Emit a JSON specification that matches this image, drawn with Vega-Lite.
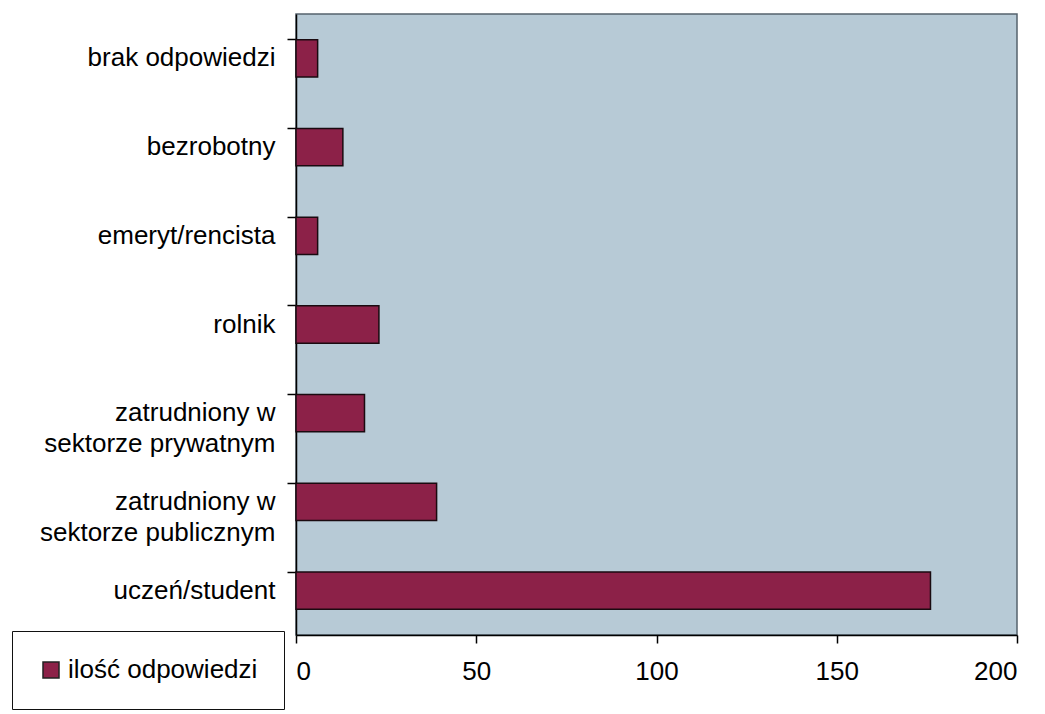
{
  "$schema": "https://vega.github.io/schema/vega-lite/v6.json",
  "width": 721,
  "height": 621,
  "autosize": {"type": "none"},
  "padding": {"left": 296, "top": 14, "right": 28, "bottom": 79},
  "background": "white",
  "data": {
    "values": [
      {"kategoria": "brak odpowiedzi", "seria": "ilość odpowiedzi", "wartosc": 6},
      {"kategoria": "bezrobotny", "seria": "ilość odpowiedzi", "wartosc": 13},
      {"kategoria": "emeryt/rencista", "seria": "ilość odpowiedzi", "wartosc": 6},
      {"kategoria": "rolnik", "seria": "ilość odpowiedzi", "wartosc": 23},
      {"kategoria": "zatrudniony w sektorze prywatnym", "seria": "ilość odpowiedzi", "wartosc": 19},
      {"kategoria": "zatrudniony w sektorze publicznym", "seria": "ilość odpowiedzi", "wartosc": 39},
      {"kategoria": "uczeń/student", "seria": "ilość odpowiedzi", "wartosc": 176}
    ]
  },
  "mark": {"type": "bar", "stroke": "#1a0a10", "strokeWidth": 1.5},
  "encoding": {
    "y": {
      "field": "kategoria",
      "type": "nominal",
      "sort": null,
      "scale": {"paddingInner": 0.58, "paddingOuter": 0.29},
      "axis": {
        "title": null,
        "bandPosition": 0,
        "labelExpr": "split(replace(datum.label, ' w ', ' w|'), '|')",
        "labelLineHeight": 31,
        "labelFontSize": 26,
        "labelPadding": 12,
        "tickSize": 9,
        "labelLimit": 300
      }
    },
    "x": {
      "field": "wartosc",
      "type": "quantitative",
      "scale": {"domain": [0, 200], "nice": false},
      "axis": {
        "title": null,
        "values": [0, 50, 100, 150, 200],
        "grid": false,
        "labelFontSize": 26,
        "labelPadding": 15,
        "tickSize": 8
      }
    },
    "color": {
      "field": "seria",
      "type": "nominal",
      "scale": {"range": ["#8c2148"]},
      "legend": {
        "title": null,
        "orient": "none",
        "legendX": -284,
        "legendY": 617,
        "padding": 26,
        "strokeColor": "#111111",
        "fillColor": "white",
        "symbolType": "square",
        "symbolSize": 256,
        "symbolStrokeColor": "#222222",
        "symbolStrokeWidth": 1.5,
        "labelFontSize": 26,
        "labelOffset": 4,
        "labelLimit": 300
      }
    }
  },
  "config": {
    "font": "Liberation Sans",
    "view": {"fill": "#b7cad6", "stroke": "#55636e", "strokeWidth": 1.5},
    "axis": {
      "domainColor": "#000000",
      "domainWidth": 1.5,
      "tickColor": "#000000",
      "tickWidth": 1.5,
      "labelColor": "#000000",
      "labelFont": "Liberation Sans"
    },
    "legend": {"labelColor": "#000000", "labelFont": "Liberation Sans"}
  }
}
